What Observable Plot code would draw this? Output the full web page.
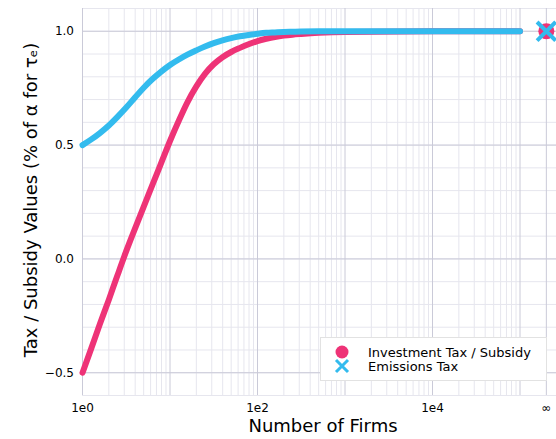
<!DOCTYPE html>
<html>
<head>
<meta charset="utf-8">
<script src="https://cdn.jsdelivr.net/npm/d3@7"></script>
<script src="https://cdn.jsdelivr.net/npm/@observablehq/plot@0.6"></script>
<style>
  html, body { margin: 0; padding: 0; background: white; }
</style>
</head>
<body>
<div id="chart"></div>
<script>
// Number of firms (x) and the two policy series (y)
const firms = [1, 1.26, 1.58, 2, 2.51, 3.16, 3.98, 5.01, 6.31, 7.94, 10, 12.6, 15.8, 20, 25.1, 31.6, 39.8, 50, 63, 79, 100, 126, 158, 200, 251, 316, 500, 1000, 1e4, 1e5];
const investTax = [-0.5, -0.393, -0.286, -0.179, -0.072, 0.034, 0.133, 0.23, 0.326, 0.422, 0.518, 0.607, 0.688, 0.758, 0.813, 0.855, 0.886, 0.909, 0.927, 0.943, 0.957, 0.967, 0.975, 0.981, 0.985, 0.988, 0.993, 0.997, 1.0, 1.0];
const emissionsTax = [0.5, 0.525, 0.553, 0.586, 0.624, 0.665, 0.709, 0.752, 0.79, 0.823, 0.852, 0.876, 0.897, 0.916, 0.933, 0.948, 0.96, 0.97, 0.978, 0.984, 0.989, 0.993, 0.995, 0.997, 0.998, 0.999, 1.0, 1.0, 1.0, 1.0];

// Limit values (N = ∞)
const infinityPos = 2e5;
const investTaxInf = 1.0;
const emissionsTaxInf = 1.0;

// Tick labels
const xTickValues = [1, 100, 1e4, infinityPos];
const xTickLabels = ["1e0", "1e2", "1e4", "∞"];
const yTickValues = [-0.5, 0, 0.5, 1.0];
const yTickLabels = ["−0.5", "0.0", "0.5", "1.0"];

const seriesNames = ["Investment Tax / Subsidy", "Emissions Tax"];
const pink = "#EE3377";
const blue = "#33BBEE";

const invData = firms.map((n, i) => ({n, v: investTax[i]}));
const emiData = firms.map((n, i) => ({n, v: emissionsTax[i]}));

// grid positions
const xMajor = [1, 10, 100, 1e3, 1e4, 1e5, infinityPos];
const xMinor = [];
for (let k = 0; k < 5; k++) for (let m = 2; m <= 9; m++) xMinor.push(m * 10 ** k);
const yMinor = d3.range(-6, 12).map(d => d / 10);
const yMajor = [-0.5, 0, 0.5, 1.0];

const W = 556, H = 439;
const mL = 82, mR = 0, mT = 8, mB = 44;
const xMax = 10 ** 5.417;

const chart = Plot.plot({
  width: W,
  height: H,
  marginLeft: mL,
  marginRight: mR,
  marginTop: mT,
  marginBottom: mB,
  style: {fontFamily: "DejaVu Sans", fontSize: "12px", background: "white", color: "black", overflow: "visible"},
  x: {type: "log", domain: [1, xMax], ticks: xTickValues, tickFormat: d => xTickLabels[xTickValues.indexOf(d)], tickSize: 0, tickPadding: 8, label: null},
  y: {domain: [-0.6, 1.1], ticks: yTickValues, tickFormat: d => yTickLabels[yTickValues.indexOf(d)], tickSize: 0, tickPadding: 8.5, label: null},
  marks: [
    Plot.ruleX(xMinor, {stroke: "#e6e6ee", strokeWidth: 1}),
    Plot.ruleY(yMinor, {stroke: "#e6e6ee", strokeWidth: 1}),
    Plot.ruleX(xMajor, {stroke: "#cacad8", strokeWidth: 1}),
    Plot.ruleY(yMajor, {stroke: "#cacad8", strokeWidth: 1}),
    Plot.line(invData, {x: "n", y: "v", stroke: pink, strokeWidth: 6, curve: "monotone-x", strokeLinecap: "round", strokeLinejoin: "round"}),
    Plot.line(emiData, {x: "n", y: "v", stroke: blue, strokeWidth: 6, curve: "monotone-x", strokeLinecap: "round", strokeLinejoin: "round"}),
    Plot.dot([{n: infinityPos, v: investTaxInf}], {x: "n", y: "v", r: 8, fill: pink, stroke: "none"}),
    Plot.dot([{n: infinityPos, v: emissionsTaxInf}], {x: "n", y: "v", r: 8.5, symbol: "times", stroke: blue, strokeWidth: 4})
  ]
});

const svg = d3.select(chart);
// Axis titles
svg.append("text")
  .attr("x", (mL + W - mR) / 2 + 4)
  .attr("y", 432)
  .attr("text-anchor", "middle")
  .attr("font-size", 18)
  .attr("fill", "black")
  .text("Number of Firms");
svg.append("text")
  .attr("transform", "translate(36.5,200) rotate(-90)")
  .attr("text-anchor", "middle")
  .attr("font-size", 18)
  .attr("fill", "black")
  .text("Tax / Subsidy Values (% of α for τₑ)");

// Legend
const lg = svg.append("g").attr("text-anchor", "start");
lg.append("rect").attr("x", 320.5).attr("y", 337.5).attr("width", 226).attr("height", 43)
  .attr("fill", "white").attr("stroke", "#e2e2e2").attr("stroke-width", 1);
lg.append("circle").attr("cx", 342).attr("cy", 352).attr("r", 6.5).attr("fill", pink);
lg.append("path").attr("d", "M336,360L348,372M348,360L336,372").attr("stroke", blue).attr("stroke-width", 3).attr("fill", "none");
lg.append("text").attr("x", 368).attr("y", 357).attr("text-anchor", "start").attr("font-size", 13).attr("fill", "black").text(seriesNames[0]);
lg.append("text").attr("x", 368).attr("y", 371).attr("text-anchor", "start").attr("font-size", 13).attr("fill", "black").text(seriesNames[1]);

document.getElementById("chart").appendChild(chart);
</script>
</body>
</html>
